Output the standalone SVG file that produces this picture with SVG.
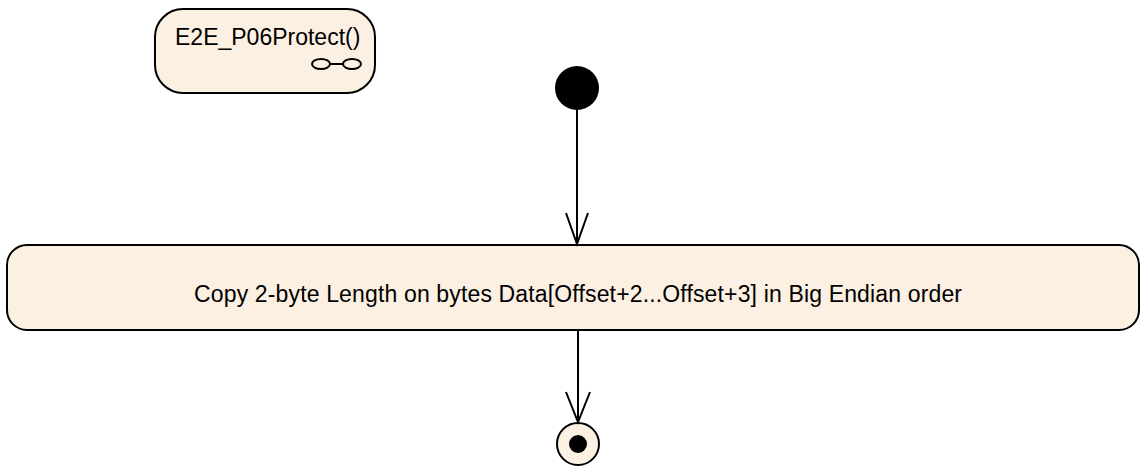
<svg xmlns="http://www.w3.org/2000/svg" width="1140" height="466" viewBox="0 0 1140 466">
<style>
.box{fill:#FBF0E2;stroke:#000;stroke-width:2}
.t{font-family:"Liberation Sans",Arial,sans-serif;font-size:23px;fill:#000}
.ln{stroke:#000;stroke-width:2;fill:none}
</style>
<rect width="1140" height="466" fill="#fff"/>
<g id="e2e_protect">
<rect class="box" x="155" y="9" width="220" height="84" rx="28" ry="28"/>
<text class="t" x="175" y="45">E2E_P06Protect()</text>
<ellipse class="ln" cx="321" cy="64" rx="9" ry="5"/>
<ellipse class="ln" cx="352" cy="64" rx="9" ry="5"/>
<line class="ln" x1="330" y1="64" x2="343" y2="64"/>
</g>
<g id="initial">
<circle cx="577" cy="88" r="22" fill="#000"/>
</g>
<g id="copy_length">
<rect class="box" x="7" y="245" width="1132" height="85" rx="20" ry="20"/>
<text class="t" x="194" y="302" textLength="768" lengthAdjust="spacing">Copy 2-byte Length on bytes Data[Offset+2...Offset+3] in Big Endian order</text>
</g>
<g id="final">
<circle cx="578" cy="444" r="21" class="box"/>
<circle cx="578" cy="444" r="9" fill="#000"/>
</g>
<g id="connectors">
<line class="ln" x1="577" y1="110" x2="577" y2="245"/>
<polyline class="ln" points="566,213 577,244 588,213"/>
<line class="ln" x1="578" y1="331" x2="578" y2="423"/>
<polyline class="ln" points="566,392 578,422 590,392"/>
</g>
</svg>
